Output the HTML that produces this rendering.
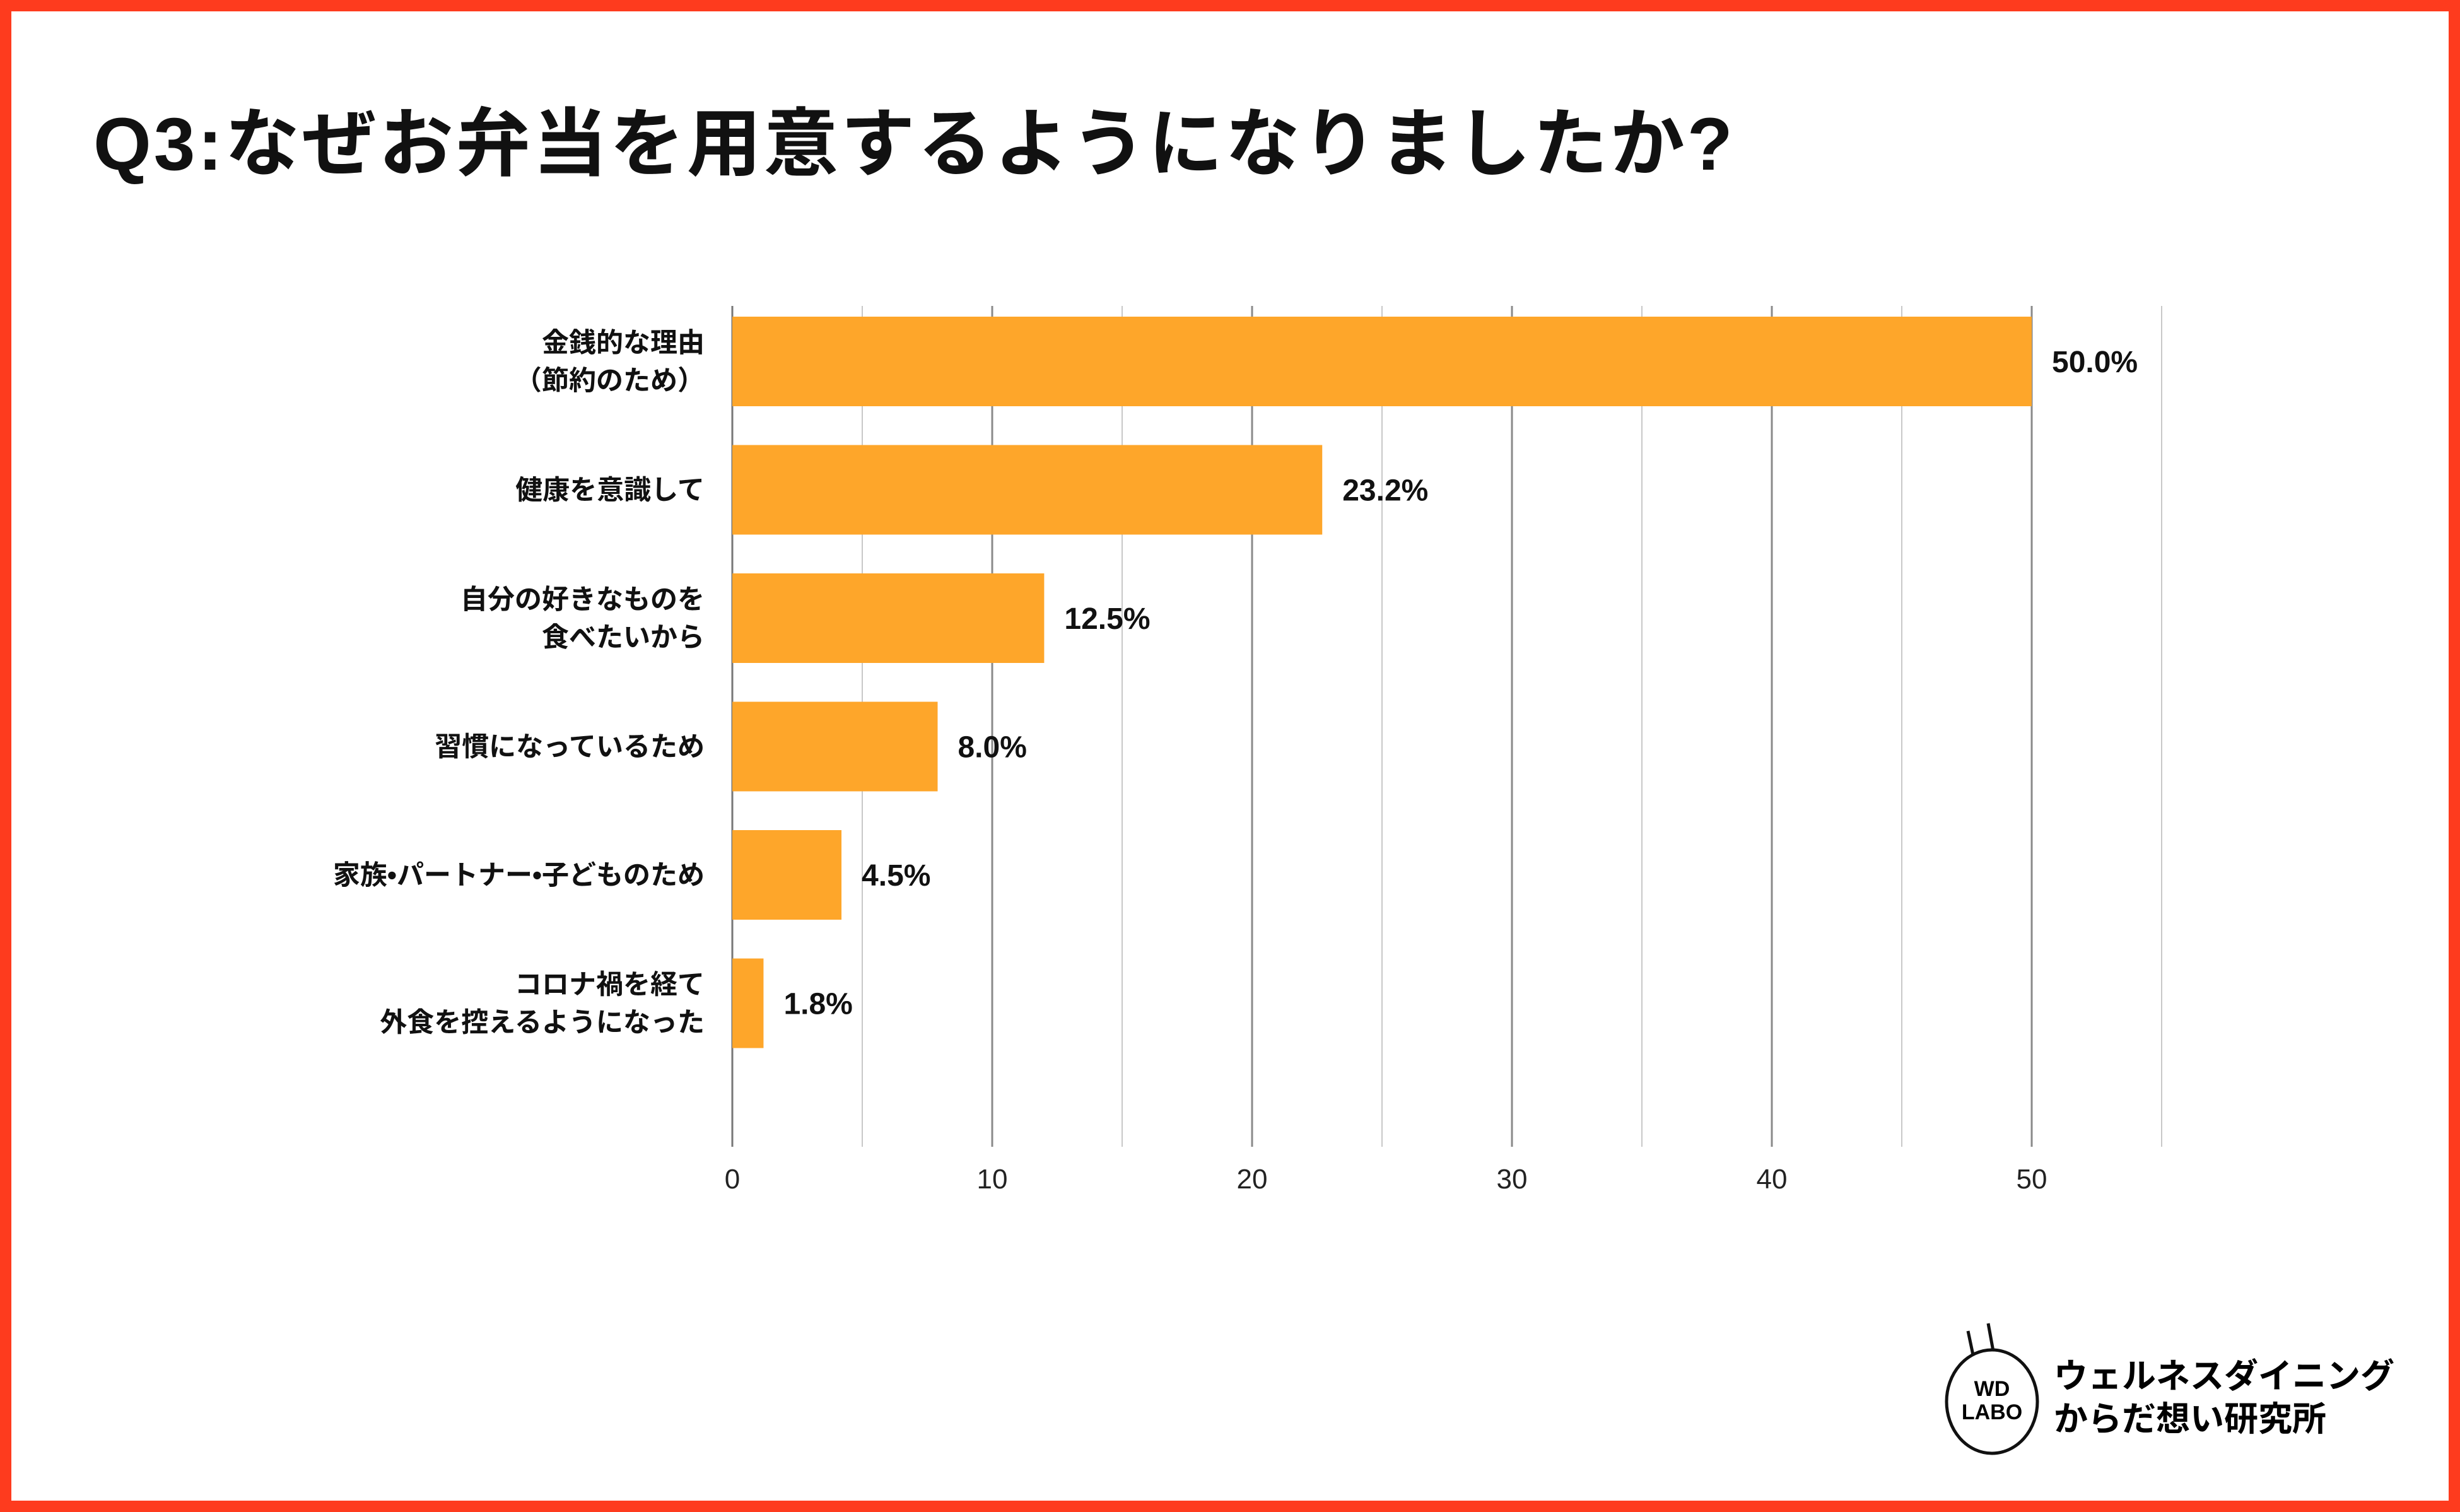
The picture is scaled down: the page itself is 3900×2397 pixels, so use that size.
<!DOCTYPE html>
<html><head><meta charset="utf-8"><style>
html,body{margin:0;padding:0;background:#fff}
body{width:3900px;height:2397px;position:relative;overflow:hidden;font-family:"Liberation Sans","Noto Sans CJK JP",sans-serif}
.frame{position:absolute;left:0;top:0;width:3900px;height:2397px;box-sizing:border-box;border:18px solid #fe3b1e}
.title{position:absolute;left:148px;top:132px;font-size:118px;font-weight:bold;color:#111;letter-spacing:4px;white-space:nowrap}
</style></head><body>
<div class="frame"></div>
<div class="title">Q3:なぜお弁当を用意するようになりましたか?</div>
<svg id="chart" width="3900" height="2397" style="position:absolute;left:0;top:0"></svg>
<svg width="3900" height="2397" style="position:absolute;left:0;top:0;pointer-events:none">
<ellipse cx="3158" cy="2222" rx="72" ry="82" fill="none" stroke="#111" stroke-width="5"/>
<line x1="3120" y1="2110" x2="3128" y2="2148" stroke="#111" stroke-width="5"/>
<line x1="3152" y1="2098" x2="3160" y2="2142" stroke="#111" stroke-width="5"/>
<text x="3158" y="2213" font-size="34" font-weight="bold" text-anchor="middle" font-family="Liberation Sans,sans-serif">WD</text>
<text x="3158" y="2250" font-size="34" font-weight="bold" text-anchor="middle" font-family="Liberation Sans,sans-serif">LABO</text>
<text x="3256" y="2200" font-size="54" font-family="Liberation Sans,Noto Sans CJK JP,sans-serif" font-weight="bold">ウェルネスダイニング</text>
<text x="3256" y="2268" font-size="54" font-family="Liberation Sans,Noto Sans CJK JP,sans-serif" font-weight="bold">からだ想い研究所</text>
</svg>
<script>
const categories=[["金銭的な理由","（節約のため）"],["健康を意識して"],["自分の好きなものを","食べたいから"],["習慣になっているため"],["家族•パートナー•子どものため"],["コロナ禍を経て","外食を控えるようになった"]];
const values=[50.0,22.7,12.0,7.9,4.2,1.2];
const valueLabels=["50.0%","23.2%","12.5%","8.0%","4.5%","1.8%"];
const tickValues=[0,10,20,30,40,50];
const gridValues=[5,10,15,20,25,30,35,40,45,50,55];
const svg=document.getElementById('chart');
const NS='http://www.w3.org/2000/svg';
const x0=1161,unit=41.2,plotTop=485,plotBottom=1818,pitch=203.5,firstTop=502,barH=142;
const xs=v=>x0+v*unit;
function mk(t,a){const e=document.createElementNS(NS,t);for(const k in a)e.setAttribute(k,a[k]);svg.appendChild(e);return e;}
gridValues.forEach(v=>{
  const l=mk('line',{x1:xs(v),x2:xs(v),y1:plotTop,y2:plotBottom,stroke:v%10===0?'#8a8a8a':'#c8c8c8','stroke-width':v%10===0?3:2});
  
  
});
const ax=mk('line',{x1:x0,x2:x0,y1:plotTop,y2:plotBottom,stroke:'#777','stroke-width':3});


tickValues.forEach(v=>{
  const t=mk('text',{x:xs(v),y:1884,'font-size':44,'text-anchor':'middle',fill:'#222'});
  t.textContent=v;
  
  
});
values.forEach((v,i)=>{
  const y=firstTop+i*pitch;
  const r=mk('rect',{x:x0,y:y,width:xs(v)-x0,height:barH,fill:'#fea62a'});
  
  
  const t=mk('text',{x:xs(v)+32,y:y+barH/2+17,'font-size':48,'font-weight':'bold',fill:'#111'});
  t.textContent=valueLabels[i];
  
  
  const lines=categories[i];
  lines.forEach((s,j)=>{
    const cy=y+barH/2+15+(j-(lines.length-1)/2)*60;
    const c=mk('text',{x:1117,y:cy,'font-size':43,'font-weight':'bold','text-anchor':'end',fill:'#111'});
    c.textContent=s;
    
    
  });
});
</script>
</body></html>
